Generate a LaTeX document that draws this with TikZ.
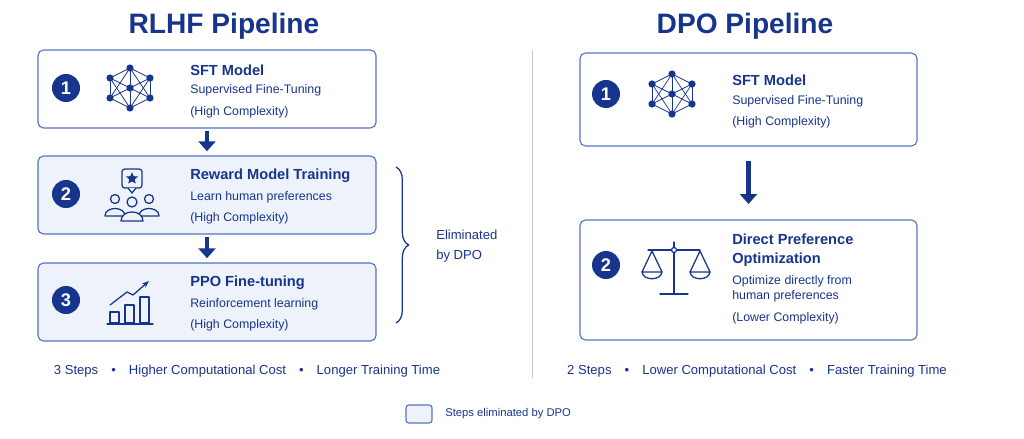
\documentclass[tikz,border=0pt]{standalone}
\usepackage{fontspec}
\setmainfont{Liberation Sans}
\usepackage{xcolor}
\usetikzlibrary{arrows.meta,decorations.pathreplacing,shapes.geometric}
\definecolor{navy}{HTML}{17358C}
\definecolor{edge}{HTML}{5574C4}
\definecolor{pale}{HTML}{EEF2FB}
\definecolor{grey}{HTML}{C4C8D0}

\begin{document}
\begin{tikzpicture}[x=0.025cm,y=-0.025cm,
    box/.style={draw=edge, line width=0.8pt, rounded corners=4pt, fill=white},
    elim/.style={box, fill=pale},
    num/.style={circle, fill=navy, text=white, minimum size=0.7cm, inner sep=0pt, font=\fontsize{13}{13}\selectfont\bfseries},
    head/.style={anchor=west, text=navy, inner sep=0pt, font=\fontsize{10.4}{13}\selectfont\bfseries, align=left},
    sub/.style={anchor=west, text=navy, inner sep=0pt, font=\fontsize{8.8}{11}\selectfont, align=left},
    foot/.style={text=navy, inner sep=0pt, font=\fontsize{9.3}{11}\selectfont},
    ptitle/.style={text=navy, inner sep=0pt, font=\fontsize{20}{24}\selectfont\bfseries},
    flow/.style={-{Triangle[length=7pt,width=12pt]}, line width=3.5pt, navy},
    icon/.style={navy, line width=0.9pt, line cap=round, line join=round}]
    \useasboundingbox (0,0) rectangle (1024,439);

    % Titles
    \node[ptitle] (trlhf) at (224,26) {RLHF Pipeline};
    \node[ptitle] (tdpo) at (745,26) {DPO Pipeline};

    % Divider
    \coordinate (dtop) at (532,50);
    \coordinate (dbot) at (532,378);
    \draw[grey, line width=0.6pt] (dtop) -- (dbot);

    % RLHF steps
    \node[box, minimum width=8.45cm, minimum height=1.95cm] (r1) at (207,89) {};
    \node[elim, minimum width=8.45cm, minimum height=1.95cm] (r2) at (207,195) {};
    \node[elim, minimum width=8.45cm, minimum height=1.95cm] (r3) at (207,302) {};
    \draw[flow] ([yshift=-2pt]r1.south) -- ([yshift=3pt]r2.north);
    \draw[flow] ([yshift=-2pt]r2.south) -- ([yshift=3pt]r3.north);

    % DPO steps
    \node[box, minimum width=8.425cm, minimum height=2.325cm] (d1) at (748.5,99.5) {};
    \node[box, minimum width=8.425cm, minimum height=3.0cm] (d2) at (748.5,280) {};
    \draw[flow] ([yshift=-10pt]d1.south) -- ([yshift=11pt]d2.north);

    \node[num] (n1) at (66,88) {1};
    \node[num] (n2) at (66,194) {2};
    \node[num] (n3) at (66,300) {3};
    \node[num] (m1) at (606,94) {1};
    \node[num] (m2) at (606,265) {2};

    \node[head] (h1) at (190,70) {SFT Model};
    \node[sub] (s1) at (190,90) {Supervised Fine-Tuning};
    \node[sub] (c1) at (190,112) {(High Complexity)};
    \node[head] (h2) at (190,176) {Reward Model Training};
    \node[sub] (s2) at (190,197) {Learn human preferences};
    \node[sub] (c2) at (190,218) {(High Complexity)};
    \node[head] (h3) at (190,283) {PPO Fine-tuning};
    \node[sub] (s3) at (190,304) {Reinforcement learning};
    \node[sub] (c3) at (190,325) {(High Complexity)};

    \node[head] (h4) at (732,80) {SFT Model};
    \node[sub] (s4) at (732,101) {Supervised Fine-Tuning};
    \node[sub] (c4) at (732,122) {(High Complexity)};
    \node[head, anchor=north west] (h5) at (732,234) {Direct Preference\\Optimization};
    \node[sub, anchor=north west] (s5) at (732,275) {Optimize directly from\\human preferences};
    \node[sub] (c5) at (732,318) {(Lower Complexity)};

    % Network icons
    \foreach \cx/\cy in {130/88, 672/94} {
        \begin{scope}[shift={(\cx,\cy)}]
            \foreach \a/\b in {0/-20, 0/20, -20/-10, -20/10, 20/-10, 20/10}
                \foreach \c/\d in {0/-20, 0/20, 0/0}
                    \draw[icon, line width=0.5pt] (\a,\b) -- (\c,\d);
            \draw[icon, line width=0.5pt] (-20,-10) -- (-20,10) (20,-10) -- (20,10) (0,-20) -- (0,20);
            \foreach \a/\b in {0/-20, 0/20, 0/0, -20/-10, -20/10, 20/-10, 20/10}
                \fill[navy] (\a,\b) circle (3.6);
        \end{scope}
    }

    % People icon
    \draw[icon, rounded corners=2pt] (122,169) rectangle (142,188);
    \draw[icon, fill=pale] (128,188) -- (132,193) -- (136,188);
    \node[star, star points=5, star point ratio=2.2, fill=navy, inner sep=0pt, minimum size=9pt] (st) at (132,178.5) {};
    \draw[icon] (115,199) circle (4.5) (149,199) circle (4.5) (132,202) circle (5);
    \draw[icon] (105,216) .. controls (105,206) and (125,206) .. (125,216) -- cycle;
    \draw[icon] (139,216) .. controls (139,206) and (159,206) .. (159,216) -- cycle;
    \draw[icon, fill=pale] (121,221) .. controls (121,209) and (143,209) .. (143,221) -- cycle;

    % Chart icon
    \draw[icon] (110,323) rectangle (119,312) (125,323) rectangle (134,305) (140,323) rectangle (149,297);
    \draw[icon] (107,324) -- (153,324);
    \draw[icon, -{Stealth[length=5pt]}] (110,305) -- (127,292) -- (133,295) -- (149,281);

    % Brace
    \draw[navy, line width=0.9pt, decorate, decoration={brace, amplitude=9pt}] (396,167) -- (396,323);
    \node[foot, align=left, anchor=west] (el) at (436,246) {Eliminated\\[3pt]by DPO};

    % Scale icon
    \draw[icon] (674,242) -- (674,247.5) (674,252.5) -- (674,293);
    \draw[icon] (648,250) -- (671.5,250) (676.5,250) -- (700,250);
    \draw[icon] (674,250) circle (2.5);
    \draw[icon] (660,294) -- (688,294);
    \foreach \px in {652,700} {
        \draw[icon] (\px-10,272) -- (\px,251) -- (\px+10,272);
        \draw[icon] (\px-10,272) -- (\px+10,272) .. controls (\px+9,281) and (\px-9,281) .. (\px-10,272);
    }

    % Footers
    \node[foot] (f1) at (247,371) {3 Steps\quad•\quad Higher Computational Cost\quad•\quad Longer Training Time};
    \node[foot] (f2) at (757,371) {2 Steps\quad•\quad Lower Computational Cost\quad•\quad Faster Training Time};

    % Legend
    \node[elim, rounded corners=2pt, minimum width=0.65cm, minimum height=0.45cm] (lg) at (419,414) {};
    \node[foot, anchor=west, font=\fontsize{8}{10}\selectfont] (lt) at (445,414) {Steps eliminated by DPO};
\end{tikzpicture}
\end{document}
